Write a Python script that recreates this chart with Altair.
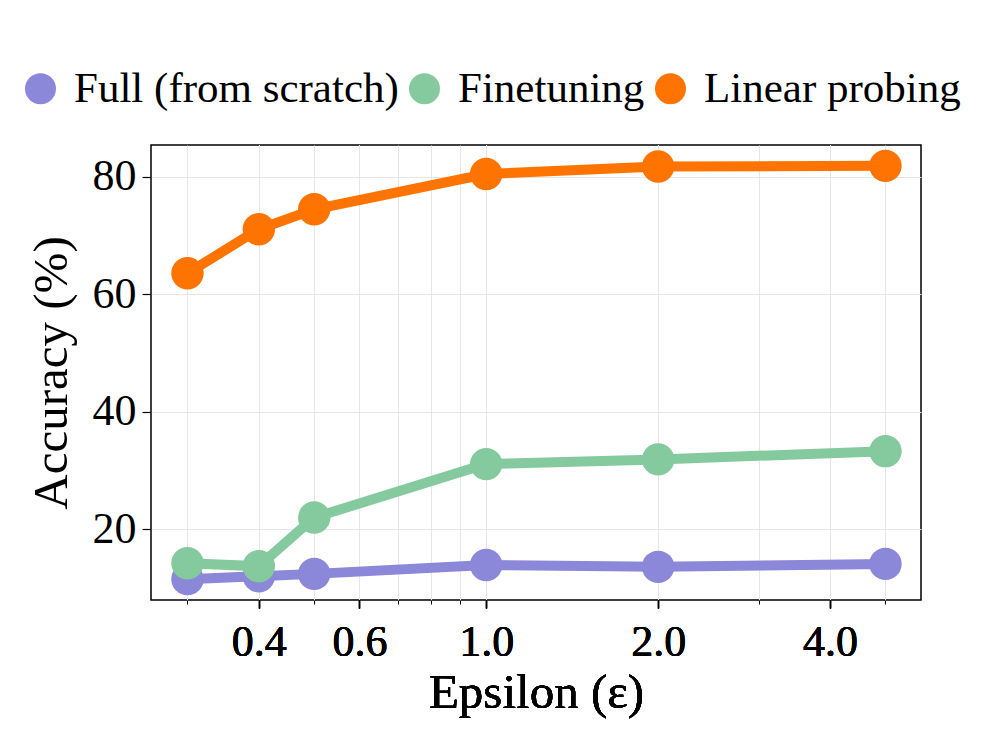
import altair as alt
import pandas as pd

eps = [0.3, 0.4, 0.5, 1.0, 2.0, 5.0]
full = [11.5, 12.0, 12.4, 13.9, 13.6, 14.1]
finetune = [14.2, 13.7, 22.0, 31.1, 31.9, 33.3]
linear = [63.6, 71.1, 74.5, 80.5, 81.8, 81.9]

series = ["Full (from scratch)", "Finetuning", "Linear probing"]
colors = ["#8B87D9", "#84CA9E", "#FF7400"]
major_ticks = [0.4, 0.6, 1.0, 2.0, 4.0]
minor_ticks = [0.3, 0.5, 0.7, 0.8, 0.9, 3.0, 5.0]
y_ticks = [20, 40, 60, 80]

rows = []
for name, vals in zip(series, [full, finetune, linear]):
    for e, v in zip(eps, vals):
        rows.append({"eps": e, "acc": v, "series": name})
df = pd.DataFrame(rows)

FONT = "Liberation Serif"
xscale = alt.Scale(type="log", domain=[0.259, 5.77], nice=False)
yscale = alt.Scale(domain=[7.95, 85.45], nice=False, zero=False)
cscale = alt.Scale(domain=series, range=colors)

base = alt.Chart(df)

# minor axis/grid layer
minor = base.mark_point(opacity=0).encode(
    x=alt.X("eps:Q", scale=xscale,
            axis=alt.Axis(values=minor_ticks, labels=False, title=None, tickSize=4,
                          tickWidth=1, tickColor="black", grid=True, gridColor="#e6e6e6",
                          gridWidth=1, domain=False, orient="bottom")),
    y=alt.Y("acc:Q", scale=yscale,
            axis=alt.Axis(values=y_ticks, title="Accuracy (%)", tickSize=9, tickWidth=1.2,
                          tickColor="black", labelFontSize=44, titleFontSize=49,
                          labelFont=FONT, titleFont=FONT, labelColor="black",
                          titleColor="black", titleFontWeight="normal", grid=True,
                          gridColor="#e6e6e6", gridWidth=1, domain=False, labelPadding=6,
                          titlePadding=16)),
)

layers = [minor]
for i, name in enumerate(series):
    sub = base.transform_filter(alt.datum.series == name)
    enc = dict(
        x=alt.X("eps:Q", scale=xscale,
                axis=alt.Axis(values=major_ticks, format=".1f", title="Epsilon (ε)",
                              tickSize=8, tickWidth=1.2, tickColor="black",
                              labelFontSize=44, titleFontSize=49, labelFont=FONT,
                              titleFont=FONT, labelColor="black", titleColor="black",
                              titleFontWeight="normal", grid=True, gridColor="#e6e6e6",
                              gridWidth=1, domain=False, labelPadding=12, titlePadding=4,
                              orient="bottom")),
        y=alt.Y("acc:Q", scale=yscale),
        color=alt.Color("series:N", scale=cscale,
                        legend=alt.Legend(title=None, orient="none", direction="horizontal",
                                          legendX=-132, legendY=-78, symbolType="circle",
                                          symbolSize=960, symbolStrokeWidth=0,
                                          labelFontSize=43, labelFont=FONT,
                                          labelColor="black", labelOffset=12,
                                          labelLimit=0, columnPadding=4,
                                          symbolOpacity=1)),
    )
    line = sub.mark_line(strokeWidth=10).encode(**enc)
    pts = sub.mark_circle(size=1050, opacity=1).encode(**enc)
    layers += [line, pts]

chart = alt.layer(*layers).resolve_axis(x="independent").properties(
    width=770, height=455,
    autosize=alt.AutoSizeParams(type="none"),
    padding={"left": 143, "top": 137, "right": 60, "bottom": 130},
    background="white",
).configure_view(stroke="black", strokeWidth=1.5)

chart.save("out.html", embed_options={"renderer": "svg", "actions": False})
